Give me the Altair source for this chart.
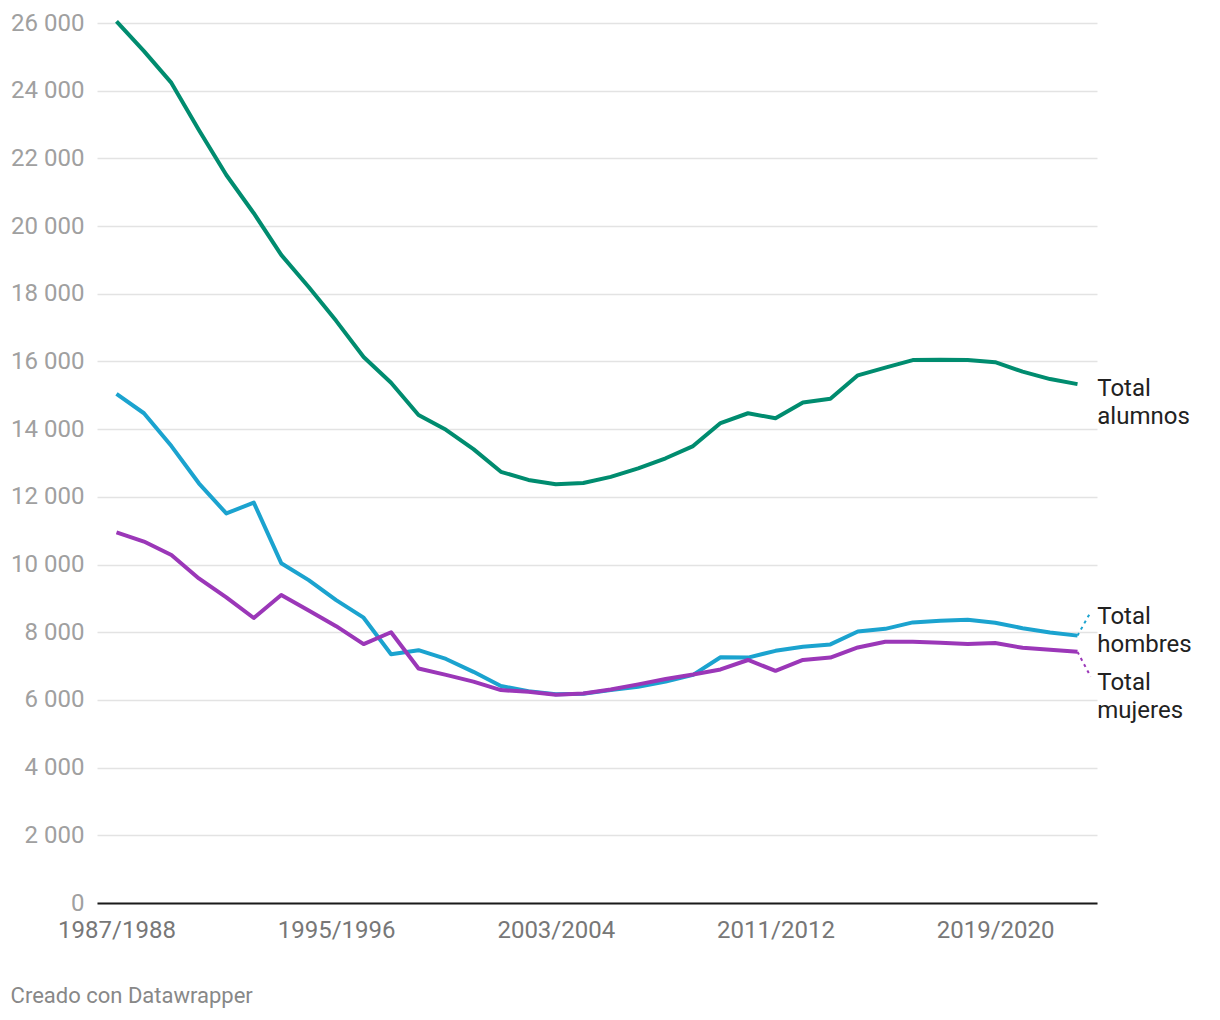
import altair as alt
import pandas as pd

# ---- data -------------------------------------------------------------
seasons = [
    "1987/1988", "1988/1989", "1989/1990", "1990/1991", "1991/1992", "1992/1993",
    "1993/1994", "1994/1995", "1995/1996", "1996/1997", "1997/1998", "1998/1999",
    "1999/2000", "2000/2001", "2001/2002", "2002/2003", "2003/2004", "2004/2005",
    "2005/2006", "2006/2007", "2007/2008", "2008/2009", "2009/2010", "2010/2011",
    "2011/2012", "2012/2013", "2013/2014", "2014/2015", "2015/2016", "2016/2017",
    "2017/2018", "2018/2019", "2019/2020", "2020/2021", "2021/2022", "2022/2023",
]

total_alumnos = [
    26050, 25170, 24230, 22840, 21510, 20380, 19150, 18200, 17200, 16130,
    15370, 14420, 13980, 13410, 12740, 12500, 12370, 12410, 12590, 12840,
    13140, 13500, 14180, 14470, 14320, 14790, 14900, 15590, 15820, 16040,
    16050, 16040, 15980, 15700, 15480, 15330,
]
total_hombres = [
    15040, 14470, 13500, 12400, 11510, 11830, 10040, 9540, 8950, 8430,
    7350, 7470, 7210, 6830, 6410, 6260, 6170, 6180, 6290, 6390,
    6540, 6740, 7260, 7250, 7450, 7570, 7640, 8020, 8100, 8290,
    8340, 8370, 8280, 8120, 7990, 7900,
]
total_mujeres = [
    10950, 10680, 10280, 9590, 9030, 8420, 9100, 8640, 8180, 7650,
    8000, 6930, 6740, 6540, 6290, 6240, 6150, 6190, 6310, 6460,
    6620, 6750, 6900, 7180, 6860, 7180, 7250, 7550, 7720, 7720,
    7690, 7650, 7680, 7540, 7480, 7420,
]

series_names = ["Total alumnos", "Total hombres", "Total mujeres"]
series_colors = ["#008c6f", "#1ba3cf", "#9b37b8"]
series_values = [total_alumnos, total_hombres, total_mujeres]

# line-end labels (annotation): text, first-line baseline value, connector end value
label_texts = ["Total\nalumnos", "Total\nhombres", "Total\nmujeres"]
label_baselines = [14980, 8243, 6293]
connector_ends = [None, 8600, 6686]

x_ticks = ["1987/1988", "1995/1996", "2003/2004", "2011/2012", "2019/2020"]
y_ticks = [0, 2000, 4000, 6000, 8000, 10000, 12000, 14000, 16000, 18000,
           20000, 22000, 24000, 26000]

# ---- tables -----------------------------------------------------------
rows = []
for name, vals in zip(series_names, series_values):
    for i, (s, v) in enumerate(zip(seasons, vals)):
        rows.append({"serie": name, "i": i, "curso": s, "valor": v})
df = pd.DataFrame(rows)

last_i = len(seasons) - 1
conn_rows = []
for name, vals, end in zip(series_names, series_values, connector_ends):
    if end is None:
        continue
    conn_rows.append({"serie": name, "x": last_i, "y": vals[-1], "k": 0})
    conn_rows.append({"serie": name, "x": last_i + 0.48, "y": end, "k": 1})
df_conn = pd.DataFrame(conn_rows)

df_lab = pd.DataFrame({
    "serie": series_names,
    "x": [last_i + 0.72] * 3,
    "y": label_baselines,
    "t": label_texts,
})

FONT = "Roboto"
FS = 24
x_scale = alt.Scale(domain=[-0.71, last_i + 0.71], nice=False, zero=False)
y_scale = alt.Scale(domain=[0, 26000], nice=False, zero=True)
color_scale = alt.Scale(domain=series_names, range=series_colors)

x_label_expr = "[" + ",".join(f"'{s}'" for s in seasons) + "][datum.value]"
x_values = [seasons.index(s) for s in x_ticks]

x_axis = alt.Axis(
    values=x_values, labelExpr=x_label_expr, title=None, grid=False,
    ticks=False, tickSize=0, domainColor="#1a1a1a", domainWidth=2,
    labelFont=FONT, labelFontSize=FS, labelColor="#777777", labelPadding=15,
    labelFlush=False, labelOverlap=False, zindex=1,
)
y_axis = alt.Axis(
    values=y_ticks, labelExpr="replace(format(datum.value, ','), ',', ' ')",
    title=None, domain=False, ticks=False, tickSize=0,
    gridColor="#e3e3e3", gridWidth=1.5,
    labelFont=FONT, labelFontSize=FS, labelColor="#a0a0a0", labelPadding=13,
    labelBaseline="middle",
)

lines = alt.Chart(df).mark_line(strokeWidth=4, strokeJoin="round").encode(
    x=alt.X("i:Q", scale=x_scale, axis=x_axis),
    y=alt.Y("valor:Q", scale=y_scale, axis=y_axis),
    color=alt.Color("serie:N", scale=color_scale, legend=None),
)

connectors = alt.Chart(df_conn).mark_line(strokeWidth=2, strokeDash=[3, 4]).encode(
    x=alt.X("x:Q", scale=x_scale),
    y=alt.Y("y:Q", scale=y_scale),
    color=alt.Color("serie:N", scale=color_scale, legend=None),
    order="k:Q",
)

labels = alt.Chart(df_lab).mark_text(
    align="left", baseline="alphabetic", font=FONT, fontSize=FS,
    lineHeight=28, lineBreak="\n", color="#222222",
).encode(
    x=alt.X("x:Q", scale=x_scale),
    y=alt.Y("y:Q", scale=y_scale),
    text="t:N",
)

chart = alt.layer(lines, connectors, labels).properties(
    width=1000,
    height=880,
    background="white",
    padding={"left": 2, "top": 3, "right": 5, "bottom": 5},
    title=alt.TitleParams(
        text="Creado con Datawrapper", orient="bottom", anchor="start",
        frame="bounds", font=FONT, fontSize=22, fontWeight="normal",
        color="#888888", offset=44,
    ),
).configure_view(stroke=None)

chart.save("out.html", embed_options={"renderer": "svg", "actions": False})
